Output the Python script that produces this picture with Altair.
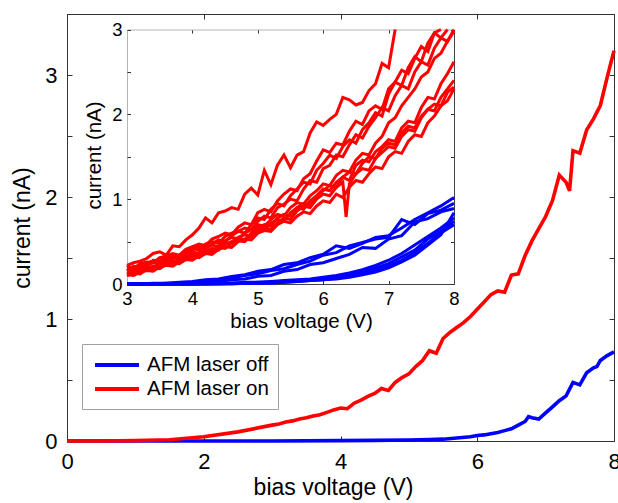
import altair as alt
import pandas as pd

# ---------------- data ----------------
LABEL_OFF = "AFM laser off"
LABEL_ON = "AFM laser on"

# main panel, laser on
V_ON = [0.0, 0.5, 1.0, 1.5, 2.0, 2.5,
        3.0, 3.1, 3.2, 3.3, 3.4, 3.5, 3.6, 3.7, 3.8, 3.9,
        4.0, 4.1, 4.2, 4.3, 4.4, 4.5, 4.6, 4.7, 4.8, 4.9,
        5.0, 5.1, 5.2, 5.3, 5.4, 5.5, 5.6, 5.7, 5.8, 5.9,
        6.0, 6.1, 6.2, 6.3, 6.4, 6.5, 6.6, 6.7, 6.8, 6.9,
        7.0, 7.1, 7.2, 7.3, 7.35, 7.4, 7.5, 7.6, 7.7, 7.8, 7.9, 8.0]
I_ON = [0.0, 0.0, 0.003, 0.01, 0.035, 0.075,
        0.13, 0.14, 0.155, 0.165, 0.18, 0.19, 0.205, 0.215, 0.235, 0.255,
        0.27, 0.265, 0.31, 0.335, 0.365, 0.39, 0.43, 0.415, 0.48, 0.52,
        0.55, 0.61, 0.66, 0.74, 0.72, 0.84, 0.89, 0.93, 0.97, 1.02,
        1.08, 1.14, 1.20, 1.23, 1.22, 1.36, 1.37, 1.52, 1.64, 1.74,
        1.84, 1.97, 2.18, 2.12, 2.05, 2.38, 2.36, 2.55, 2.64, 2.75, 2.98, 3.20]

# main panel, laser off
V_OFF = [0.0, 1.0, 2.0, 3.0, 4.0, 4.5, 5.0, 5.3, 5.5, 5.7,
         5.9, 6.0, 6.1, 6.2, 6.3, 6.4, 6.5, 6.6, 6.7, 6.75,
         6.8, 6.9, 7.0, 7.1, 7.2, 7.3, 7.4, 7.45, 7.5, 7.6,
         7.7, 7.75, 7.8, 7.9, 8.0]
I_OFF = [0.0, 0.0, 0.0, 0.0, 0.003, 0.005, 0.008, 0.012, 0.015, 0.025,
         0.035, 0.045, 0.05, 0.06, 0.07, 0.085, 0.10, 0.13, 0.16, 0.20,
         0.19, 0.18, 0.23, 0.28, 0.33, 0.37, 0.48, 0.47, 0.46, 0.56,
         0.60, 0.61, 0.66, 0.70, 0.73]

# inset: repeated sweeps, laser on (0.1 V steps)
V_FINE = [3.0, 3.1, 3.2, 3.3, 3.4, 3.5, 3.6, 3.7, 3.8, 3.9,
          4.0, 4.1, 4.2, 4.3, 4.4, 4.5, 4.6, 4.7, 4.8, 4.9,
          5.0, 5.1, 5.2, 5.3, 5.4, 5.5, 5.6, 5.7, 5.8, 5.9,
          6.0, 6.1, 6.2, 6.3, 6.4, 6.5, 6.6, 6.7, 6.8, 6.9,
          7.0, 7.1, 7.2, 7.3, 7.4, 7.5, 7.6, 7.7, 7.8, 7.9, 8.0]
V_SPIKE = [3.0, 3.1, 3.2, 3.3, 3.4, 3.5, 3.6, 3.7, 3.8, 3.9,
           4.0, 4.1, 4.2, 4.3, 4.4, 4.5, 4.6, 4.7, 4.8, 4.9,
           5.0, 5.1, 5.2, 5.3, 5.4, 5.5, 5.6, 5.7, 5.8, 5.9,
           6.0, 6.1, 6.2, 6.3, 6.35, 6.4, 6.5, 6.6, 6.7, 6.8, 6.9,
           7.0, 7.1, 7.2, 7.3, 7.4, 7.5, 7.6, 7.7, 7.8, 7.9, 8.0]
N = None  # above the top of the inset

ON_1 = [0.22, 0.25, 0.27, 0.30, 0.36, 0.38, 0.34, 0.45, 0.44, 0.52,
        0.58, 0.66, 0.78, 0.72, 0.84, 0.86, 0.90, 0.88, 1.06, 1.13,
        1.05, 1.34, 1.17, 1.40, 1.52, 1.37, 1.52, 1.56, 1.78, 1.91,
        1.87, 1.94, 2.00, 2.20, 2.17, 2.11, 2.14, 2.28, 2.36, 2.60,
        2.55, 3.40, N, N, N, N, N, N, N, N, N]
ON_2 = [0.20, 0.18, 0.24, 0.26, 0.25, 0.31, 0.33, 0.36, 0.34, 0.41,
        0.44, 0.47, 0.45, 0.53, 0.56, 0.60, 0.58, 0.67, 0.72, 0.70,
        0.84, 0.88, 0.85, 0.98, 1.06, 1.12, 1.10, 1.24, 1.30, 1.45,
        1.58, 1.55, 1.66, 1.64, 1.80, 1.92, 1.88, 2.04, 2.10, 2.06,
        2.30, 2.38, 2.52, 2.48, 2.66, 2.80, 2.74, 2.96, 3.20, N, N]
ON_3 = [0.16, 0.21, 0.19, 0.25, 0.27, 0.26, 0.32, 0.35, 0.33, 0.39,
        0.42, 0.40, 0.47, 0.50, 0.48, 0.56, 0.60, 0.62, 0.60, 0.70,
        0.78, 0.76, 0.88, 0.95, 0.92, 1.04, 1.12, 1.20, 1.18, 1.34,
        1.42, 1.52, 1.48, 1.62, 1.70, 1.66, 1.82, 1.90, 2.02, 1.98,
        2.24, 2.38, 2.34, 2.55, 2.68, 2.62, 2.84, 2.96, 2.90, 3.10, N]
ON_4 = [0.22, 0.17, 0.23, 0.21, 0.28, 0.27, 0.30, 0.34, 0.31, 0.38,
        0.40, 0.44, 0.42, 0.47, 0.52, 0.50, 0.57, 0.62, 0.66, 0.64,
        0.74, 0.80, 0.78, 0.90, 0.94, 1.00, 0.98, 1.12, 1.22, 1.20,
        1.36, 1.40, 1.52, 1.50, 1.64, 1.76, 1.72, 1.86, 1.96, 2.08,
        2.04, 2.22, 2.34, 2.30, 2.50, 2.62, 2.58, 2.78, 2.90, 2.86, 3.04]
ON_5 = [0.12, 0.15, 0.14, 0.19, 0.21, 0.20, 0.25, 0.28, 0.26, 0.32,
        0.35, 0.33, 0.39, 0.42, 0.40, 0.47, 0.50, 0.54, 0.52, 0.60,
        0.66, 0.64, 0.72, 0.76, 0.74, 0.84, 0.90, 0.88, 0.98, 1.04,
        1.12, 1.10, 1.20, 1.26, 1.22, 1.40, 1.46, 1.44, 1.56, 1.62,
        1.70, 1.68, 1.84, 1.92, 1.90, 2.08, 2.20, 2.18, 2.36, 2.48, 2.62]
ON_6 = [0.10, 0.13, 0.12, 0.17, 0.19, 0.18, 0.23, 0.25, 0.24, 0.29,
        0.32, 0.31, 0.36, 0.39, 0.43, 0.42, 0.48, 0.51, 0.50, 0.57,
        0.62, 0.66, 0.64, 0.72, 0.78, 0.76, 0.86, 0.92, 0.90, 1.00,
        1.06, 1.04, 1.14, 1.20, 0.79, 1.18, 1.30, 1.36, 1.34, 1.48, 1.55,
        1.62, 1.60, 1.74, 1.82, 1.80, 1.96, 2.06, 2.04, 2.20, 2.30, 2.40]
ON_7 = [0.14, 0.12, 0.17, 0.20, 0.18, 0.23, 0.26, 0.24, 0.30, 0.33,
        0.31, 0.37, 0.40, 0.38, 0.45, 0.49, 0.47, 0.55, 0.58, 0.56,
        0.66, 0.70, 0.68, 0.78, 0.82, 0.80, 0.90, 0.95, 0.93, 1.04,
        1.10, 1.16, 1.14, 1.26, 1.32, 1.30, 1.42, 1.50, 1.48, 1.60,
        1.66, 1.64, 1.78, 1.86, 1.84, 1.98, 2.06, 2.12, 2.10, 2.26, 2.32]
ON_8 = [0.11, 0.10, 0.14, 0.16, 0.15, 0.20, 0.22, 0.21, 0.26, 0.29,
        0.28, 0.33, 0.36, 0.35, 0.41, 0.44, 0.43, 0.50, 0.53, 0.52,
        0.60, 0.63, 0.62, 0.70, 0.74, 0.72, 0.80, 0.85, 0.83, 0.92,
        0.98, 0.96, 1.06, 1.02, 1.14, 1.22, 1.20, 1.30, 1.38, 1.36,
        1.50, 1.56, 1.54, 1.68, 1.76, 1.74, 1.90, 1.98, 2.10, 2.16, 2.30]
ON_9 = [0.15, 0.18, 0.17, 0.22, 0.25, 0.23, 0.28, 0.31, 0.30, 0.35,
        0.38, 0.36, 0.43, 0.46, 0.44, 0.51, 0.55, 0.53, 0.60, 0.64,
        0.70, 0.68, 0.76, 0.82, 0.80, 0.90, 0.96, 0.94, 1.04, 1.10,
        1.18, 1.16, 1.28, 1.34, 1.32, 1.46, 1.54, 1.52, 1.66, 1.74,
        1.90, 1.96, 2.10, 2.20, 2.30, 2.44, 2.50, 2.66, 2.72, 2.86, 2.98]

# inset: repeated sweeps, laser off (0.2 V steps)
V_COARSE = [3.0, 3.2, 3.4, 3.6, 3.8, 4.0, 4.2, 4.4, 4.6, 4.8, 5.0, 5.2, 5.4,
            5.6, 5.8, 6.0, 6.2, 6.4, 6.6, 6.8, 7.0, 7.2, 7.4, 7.6, 7.8, 8.0]
OFF_1 = [0.0, 0.0, 0.01, 0.01, 0.02, 0.03, 0.05, 0.06, 0.09, 0.11, 0.15, 0.17, 0.23,
         0.25, 0.31, 0.35, 0.45, 0.42, 0.48, 0.55, 0.57, 0.66, 0.76, 0.84, 0.92, 1.02]
OFF_2 = [0.0, 0.0, 0.0, 0.01, 0.01, 0.02, 0.03, 0.05, 0.07, 0.10, 0.12, 0.16, 0.18,
         0.23, 0.27, 0.34, 0.37, 0.45, 0.49, 0.53, 0.55, 0.76, 0.70, 0.83, 0.87, 0.95]
OFF_3 = [0.0, 0.0, 0.0, 0.0, 0.01, 0.01, 0.02, 0.03, 0.05, 0.06, 0.09, 0.10, 0.15,
         0.17, 0.23, 0.25, 0.30, 0.35, 0.43, 0.42, 0.53, 0.57, 0.73, 0.77, 0.85, 0.89]
OFF_4 = [0.0, 0.0, 0.0, 0.0, 0.0, 0.0, 0.01, 0.01, 0.01, 0.02, 0.02, 0.03, 0.04,
         0.05, 0.06, 0.08, 0.10, 0.13, 0.17, 0.22, 0.28, 0.36, 0.46, 0.56, 0.66, 0.78]
OFF_5 = [0.0, 0.0, 0.0, 0.0, 0.0, 0.0, 0.0, 0.01, 0.01, 0.01, 0.02, 0.02, 0.03,
         0.04, 0.05, 0.06, 0.08, 0.11, 0.14, 0.19, 0.24, 0.32, 0.40, 0.53, 0.62, 0.74]
OFF_6 = [0.0, 0.0, 0.0, 0.0, 0.0, 0.0, 0.0, 0.0, 0.01, 0.01, 0.01, 0.02, 0.02,
         0.03, 0.04, 0.05, 0.07, 0.09, 0.12, 0.16, 0.21, 0.28, 0.37, 0.48, 0.60, 0.70]
OFF_7 = [0.0, 0.0, 0.0, 0.0, 0.0, 0.0, 0.0, 0.0, 0.0, 0.01, 0.01, 0.01, 0.02,
         0.03, 0.04, 0.05, 0.06, 0.08, 0.11, 0.14, 0.19, 0.26, 0.34, 0.46, 0.58, 0.84]

X_MAIN_TICKS = [0, 2, 4, 6, 8]
Y_MAIN_LABELS = [0, 1, 2, 3]
Y_MAIN_TICKS = [0, 0.5, 1, 1.5, 2, 2.5, 3, 3.5]
X_IN_TICKS = [3, 4, 5, 6, 7, 8]
Y_IN_LABELS = [0, 1, 2, 3]
Y_IN_TICKS = [0, 0.5, 1, 1.5, 2, 2.5, 3]

# ---------------- tables ----------------
main_df = pd.concat([
    pd.DataFrame({"V": V_OFF, "I": I_OFF, "laser": LABEL_OFF, "curve": "main_off"}),
    pd.DataFrame({"V": V_ON, "I": I_ON, "laser": LABEL_ON, "curve": "main_on"}),
], ignore_index=True)

inset_parts = []
for k, vals in enumerate([OFF_1, OFF_2, OFF_3, OFF_4, OFF_5, OFF_6, OFF_7]):
    inset_parts.append(pd.DataFrame({"V": V_COARSE, "I": vals, "laser": LABEL_OFF,
                                     "curve": f"off{k}"}))
for k, vals in enumerate([ON_1, ON_2, ON_3, ON_4, ON_5, ON_7, ON_8, ON_9]):
    inset_parts.append(pd.DataFrame({"V": V_FINE, "I": vals, "laser": LABEL_ON,
                                     "curve": f"on{k}"}))
inset_parts.append(pd.DataFrame({"V": V_SPIKE, "I": ON_6, "laser": LABEL_ON,
                                 "curve": "on_spike"}))
inset_df = pd.concat(inset_parts, ignore_index=True)

# ---------------- layout ----------------
W, H = 547, 427          # main plot area
IX0, IX1 = 60, 387       # inset horizontal extent inside plot area
IY0, IY1 = 270, 15.5     # inset vertical extent (bottom, top)
FONT = "Liberation Sans"
DARK = "#333333"
LIGHT = "#b4b4b4"

x_main = alt.Scale(domain=[0, 8], nice=False, zero=False)
y_main = alt.Scale(domain=[0, 3.5], nice=False)
x_in = alt.Scale(domain=[3, 8], range=[IX0, IX1], nice=False, zero=False)
y_in = alt.Scale(domain=[0, 3], range=[IY0, IY1], nice=False, clamp=True)

color_scale = alt.Scale(domain=[LABEL_OFF, LABEL_ON], range=["#0000ff", "#ff0000"])
legend = alt.Legend(
    orient="none", legendX=15, legendY=330, title=None,
    symbolType="M-2.2,0L2.2,0", symbolSize=400, symbolStrokeWidth=4,
    symbolOffset=14, labelOffset=18,
    labelFont=FONT, labelFontSize=20.5, labelColor="#000000",
    strokeColor="#a0a0a0", fillColor="#ffffff", padding=9, rowPadding=1,
)

common = dict(grid=False, labelFont=FONT, titleFont=FONT, labelColor="#000000",
              titleColor="#000000", tickColor=DARK, titleFontWeight="normal",
              labelFlush=False, labelOverlap=False)


def tick_axis(orient, offset, values, size, domain=False, dcolor=DARK):
    return alt.Axis(orient=orient, offset=offset, values=values, labels=False,
                    domain=domain, domainColor=dcolor, domainWidth=1,
                    tickSize=size, tickWidth=1, title=None, **common)


# ---- main panel ----
main_lines = alt.Chart(main_df).mark_line(strokeWidth=3.6).encode(
    x=alt.X("V:Q", scale=x_main, axis=alt.Axis(
        orient="bottom", values=X_MAIN_TICKS, tickSize=0, labelPadding=10,
        labelFontSize=22, domainColor=DARK, title="bias voltage (V)",
        titleFontSize=23, titleX=266, titleY=53.5, titleBaseline="alphabetic",
        **common)),
    y=alt.Y("I:Q", scale=y_main, axis=alt.Axis(
        orient="left", values=Y_MAIN_LABELS, tickSize=0, labelPadding=10,
        labelFontSize=22, domainColor=DARK, title="current (nA)",
        titleFontSize=23, titleX=-38, titleY=213.5, titleBaseline="alphabetic",
        **common)),
    color=alt.Color("laser:N", scale=color_scale, legend=legend),
    detail="curve:N",
)
main_ticks_in = alt.Chart(main_df).mark_line(opacity=0).encode(
    x=alt.X("V:Q", scale=x_main, axis=tick_axis("top", -H, X_MAIN_TICKS, 5)),
    y=alt.Y("I:Q", scale=y_main, axis=tick_axis("right", -W, Y_MAIN_TICKS, 5)),
    detail="curve:N",
)
main_frame = alt.Chart(main_df).mark_line(opacity=0).encode(
    x=alt.X("V:Q", scale=x_main, axis=tick_axis("bottom", -H, X_MAIN_TICKS, 5, True)),
    y=alt.Y("I:Q", scale=y_main, axis=tick_axis("left", -W, Y_MAIN_TICKS, 5, True)),
    detail="curve:N",
)
main_group = alt.layer(main_lines, main_ticks_in, main_frame).resolve_axis(
    x="independent", y="independent")

# ---- inset panel ----
inset_lines = alt.Chart(inset_df).mark_line(strokeWidth=3).encode(
    x=alt.X("V:Q", scale=x_in, axis=alt.Axis(
        orient="bottom", offset=-(H - IY0), values=X_IN_TICKS, tickSize=0,
        labelPadding=5, labelFontSize=18.5, domainColor="#444444",
        title="bias voltage (V)", titleFontSize=20.5, titleX=234, titleY=43,
        titleBaseline="alphabetic", **common)),
    y=alt.Y("I:Q", scale=y_in, axis=alt.Axis(
        orient="left", offset=-IX0, values=Y_IN_LABELS, tickSize=0,
        labelPadding=5, labelFontSize=18.5, domainColor=LIGHT,
        title="current (nA)", titleFontSize=20.5, titleX=-27, titleY=141,
        titleBaseline="alphabetic", **common)),
    color=alt.Color("laser:N", scale=color_scale, legend=legend),
    detail="curve:N",
)
inset_ticks_in = alt.Chart(inset_df).mark_line(opacity=0).encode(
    x=alt.X("V:Q", scale=x_in, axis=tick_axis("top", -IY0, X_IN_TICKS, 3.5)),
    y=alt.Y("I:Q", scale=y_in, axis=tick_axis("right", -(W - IX0), Y_IN_TICKS, 3.5)),
    detail="curve:N",
)
inset_frame = alt.Chart(inset_df).mark_line(opacity=0).encode(
    x=alt.X("V:Q", scale=x_in,
            axis=tick_axis("bottom", -(H - IY1), X_IN_TICKS, 3.5, True, LIGHT)),
    y=alt.Y("I:Q", scale=y_in,
            axis=tick_axis("left", -IX1, Y_IN_TICKS, 3.5, True, "#444444")),
    detail="curve:N",
)
inset_group = alt.layer(inset_lines, inset_ticks_in, inset_frame).resolve_axis(
    x="independent", y="independent")

chart = alt.layer(main_group, inset_group).resolve_scale(
    x="independent", y="independent", color="shared"
).resolve_axis(
    x="independent", y="independent"
).properties(
    width=W, height=H, autosize="none",
    padding={"left": 67, "top": 14, "right": 4, "bottom": 62},
    background="#ffffff",
).configure_view(stroke="transparent")

chart.save("out.html", embed_options={"renderer": "svg", "actions": False})
